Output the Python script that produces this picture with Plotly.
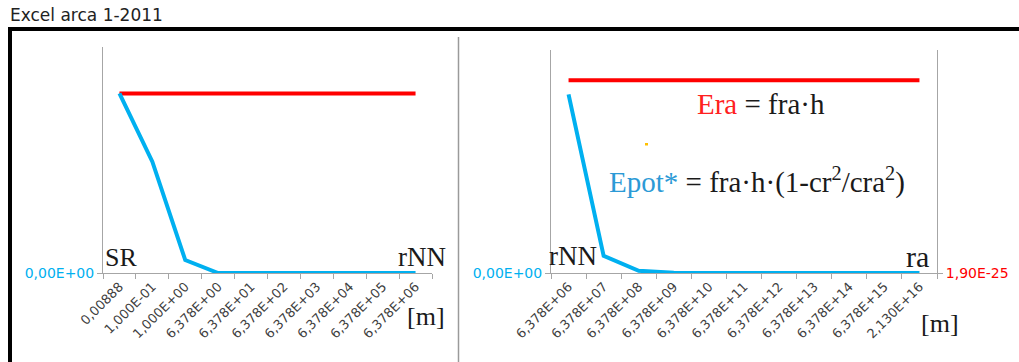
import plotly.graph_objects as go

W, H = 1019, 362

# ---- data ----
left_categories = ["0,00888", "1,000E-01", "1,000E+00", "6,378E+00", "6,378E+01",
                   "6,378E+02", "6,378E+03", "6,378E+04", "6,378E+05", "6,378E+06"]
left_era = [1.9864e-25] * 10
left_epot = [1.9864e-25, 1.232e-25, 1.43e-26, 0.0, 0.0, 0.0, 0.0, 0.0, 0.0, 0.0]

right_categories = ["6,378E+06", "6,378E+07", "6,378E+08", "6,378E+09", "6,378E+10",
                    "6,378E+11", "6,378E+12", "6,378E+13", "6,378E+14", "6,378E+15",
                    "2,130E+16"]
right_era = [1.9864e-25] * 11
right_epot = [1.9864e-25, 1.91e-26, 2.4e-27, 3.0e-28, 0.0, 0.0, 0.0, 0.0, 0.0, 0.0, 0.0]

left_y_range = [0, 2.5e-25]
right_y_range = [0, 2.48e-25]
right_y2_range = [1.90e-25, 2.00e-25]

BLUE = "#00b0f0"
RED = "#ff0000"
GRAY = "#a6a6a6"


def px(x):
    return x / W


def py(y):
    return 1 - y / H


fig = go.Figure()
fig.add_trace(go.Scatter(x=left_categories, y=left_era, mode="lines",
                         line=dict(color=RED, width=4), xaxis="x", yaxis="y"))
fig.add_trace(go.Scatter(x=left_categories, y=left_epot, mode="lines",
                         line=dict(color=BLUE, width=4), xaxis="x", yaxis="y"))
fig.add_trace(go.Scatter(x=right_categories, y=right_epot, mode="lines",
                         line=dict(color=BLUE, width=4), xaxis="x2", yaxis="y2"))
fig.add_trace(go.Scatter(x=right_categories, y=right_era, mode="lines",
                         line=dict(color=RED, width=4), xaxis="x2", yaxis="y3"))

tickfont = dict(family="DejaVu Sans", size=13, color="#404040")

xcommon = dict(type="category", showline=True, linecolor=GRAY, linewidth=1,
               ticks="outside", tickson="boundaries", ticklen=5, tickcolor=GRAY,
               tickangle=-45, tickfont=tickfont, showgrid=False, zeroline=False,
               fixedrange=True, automargin=False)

ycommon = dict(showline=True, linecolor=GRAY, linewidth=1, ticks="outside",
               ticklen=5, tickcolor=GRAY, showgrid=False, zeroline=False,
               automargin=False, fixedrange=True)

fig.update_layout(
    template="none",
    width=W, height=H,
    margin=dict(l=0, r=0, t=0, b=0, autoexpand=False),
    paper_bgcolor="white", plot_bgcolor="white",
    showlegend=False,
    xaxis=dict(domain=[px(103), px(432)], anchor="y",
               range=[-0.5, len(left_categories) - 0.5], **xcommon),
    xaxis2=dict(domain=[px(551), px(937)], anchor="y2",
                range=[-0.5, len(right_categories) - 0.5], **xcommon),
    yaxis=dict(domain=[py(273), py(47)], anchor="x", range=left_y_range,
               tickvals=[0], ticktext=["0,00E+00"],
               tickfont=dict(family="DejaVu Sans", size=14, color=BLUE), **ycommon),
    yaxis2=dict(domain=[py(273), py(50)], anchor="x2", range=right_y_range,
                tickvals=[0], ticktext=["0,00E+00"],
                tickfont=dict(family="DejaVu Sans", size=14, color=BLUE), **ycommon),
    yaxis3=dict(domain=[py(273), py(50)], anchor="x2", overlaying="y2", side="right",
                range=right_y2_range,
                tickvals=[right_y2_range[0]], ticktext=["1,90E-25"],
                tickfont=dict(family="DejaVu Sans", size=14, color=RED), **ycommon),
)

# frame / divider
shapes = [
    dict(type="line", xref="paper", yref="paper", x0=px(8), x1=1.0, y0=py(29), y1=py(29),
         line=dict(color="black", width=4)),
    dict(type="line", xref="paper", yref="paper", x0=px(10), x1=px(10), y0=py(27), y1=0,
         line=dict(color="black", width=4)),
    dict(type="line", xref="paper", yref="paper", x0=px(458.5), x1=px(458.5), y0=py(37), y1=0,
         line=dict(color="#9a9a9a", width=1.5)),
    dict(type="rect", xref="paper", yref="paper", x0=px(645), x1=px(648), y0=py(145.5), y1=py(143),
         line=dict(width=0), fillcolor="#ffc000"),
]
fig.update_layout(shapes=shapes)

serif = "Liberation Serif"
TXT = "#1a1a1a"


def ann(x, y, text, size=26, color=TXT, family=serif):
    fig.add_annotation(xref="paper", yref="paper", x=px(x), y=py(y), text=text,
                       showarrow=False, xanchor="center", yanchor="middle",
                       font=dict(family=family, size=size, color=color))


ann(86, 15, "Excel arca 1-2011", size=17, color="#222222", family="DejaVu Sans")
ann(121, 257, "SR")
ann(422, 257, "rNN", size=27)
ann(426, 316, "[m]")
ann(573, 256, "rNN", size=27)
ann(917, 256, "ra", size=30)
ann(940, 323, "[m]")
ann(761, 104, "<span style='color:#ff2020'>Era</span> = fra·h", size=29)
ann(757, 180, "<span style='color:#2c9ad6'>Epot*</span> = fra·h·(1-cr<sup>2</sup>/cra<sup>2</sup>)", size=29)

fig.write_html("out.html", post_script="document.body.style.margin='0';",
               config={"displayModeBar": False, "staticPlot": True})
